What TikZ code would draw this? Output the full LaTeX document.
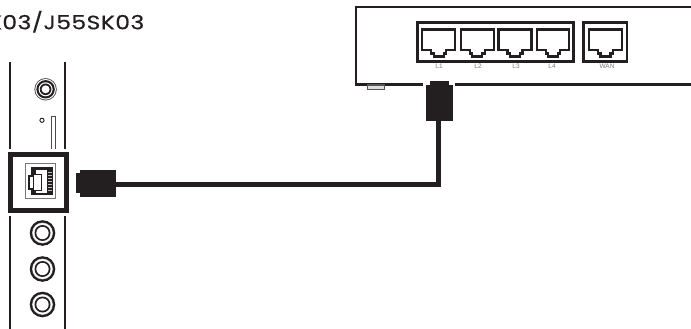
\documentclass[tikz,border=0pt]{standalone}
\usepackage{fontspec}
\setmainfont{Poppins}
\setsansfont{Liberation Sans}
\definecolor{ink}{HTML}{231F20}
\definecolor{midgray}{HTML}{77787B}
\tikzset{
  panelline/.style={draw=ink,line width=2.4pt},
  plugbody/.style={fill=ink,draw=none,inner sep=0pt,outer sep=0pt},
  cable/.style={draw=ink,line width=5pt,line join=miter},
  routerline/.style={draw=ink,line width=2.4pt},
  portline/.style={draw=ink,line width=2.2pt,line join=miter},
  portlabel/.style={font=\sffamily\fontsize{6.5}{6.5}\selectfont,text=midgray,inner sep=0pt},
  thin gray/.style={draw=midgray,line width=.8pt},
  pics/bigjack/.style={code={
    \fill[ink] (0,0) circle (12.8);
    \fill[white!75!ink] (0,0) circle (10.4);
    \fill[white] (0,0) circle (9.8);
    \fill[ink] (0,0) circle (8);
    \fill[white] (0,0) circle (6.2);
  }},
  pics/topjack/.style={code={
    \fill[ink!80] (0,0) circle (11.2);
    \fill[white] (0,0) circle (10.3);
    \fill[ink] (0,0) circle (9.2);
    \fill[white] (0,0) circle (7);
    \fill[ink] (0,0) circle (5.8);
    \fill[white] (0,0) circle (4);
  }},
  pics/rjport/.style={code={
    \draw[portline] (0,0) -- (#1,0) -- (#1,20.5) -- (#1-9,20.5) -- (#1-9,24) -- (#1-11.5,24) -- (#1-11.5,27)
      -- (11.5,27) -- (11.5,24) -- (9,24) -- (9,20.5) -- (0,20.5) -- cycle;
  }}
}
\begin{document}
\begin{tikzpicture}[x=1pt,y=-1pt]
\useasboundingbox (0,0) rectangle (691,329);
\begin{scope}
\clip (0,0) rectangle (691,329);
\node[anchor=base east,inner sep=0pt,text=ink,xscale=1.2] (title) at (144.5,29.3)
  {\fontsize{19.5}{20}\selectfont\addfontfeature{LetterSpace=2,FakeBold=0.4}K03/J55SK03};

% wall panel
\draw[panelline] (10,62) -- (10,149);
\draw[panelline] (65,62) -- (65,149);
\draw[panelline] (10,216) -- (10,329);
\draw[panelline] (65,216) -- (65,329);
\pic at (45.6,89.3) {topjack};
\draw[ink,line width=.9pt] (42,120.3) circle (2.1);
\draw[ink!80,line width=.8pt] (51.5,149) -- (51.5,116.5) -- (55.7,116.5) -- (55.7,149);
\pic at (42.5,233) {bigjack};
\pic at (42.5,269) {bigjack};
\pic at (42.5,304.5) {bigjack};

% wall socket
\draw[draw=ink,line width=5pt] (10,154.5) rectangle (66.5,210.5);
\draw[thin gray] (25,163.7) rectangle (55.5,198.5);
\fill[ink] (31,167) rectangle (53,195);
\fill[white] (36,170) rectangle (45.5,192.5);
\fill[ink] (28,175) rectangle (33,190);
\fill[white] (29.5,177) rectangle (33,188);
\fill[white] (33,174.5) rectangle (41,190.5);
\draw[ink,line width=.8pt] (33,174.5) rectangle (41,190.5);
\fill[white] (45.5,170) rectangle (46.8,192.5);
\foreach \yy in {171.5,174.5,...,190} \fill[white!70!ink] (47.5,\yy) rectangle (51.5,\yy+1.3);

% router
\draw[routerline] (691,7) -- (356,7) -- (356,84.7) -- (423,84.7);
\draw[routerline] (455,84.7) -- (691,84.7);
\draw[draw=midgray!70!black,line width=1.5pt,fill=midgray!25] (367.5,85) rectangle (384.5,89.5);
\draw[portline] (417.5,22.5) rectangle (573.5,61.5);
\draw[portline] (583.5,22.5) rectangle (627,61.5);
\pic at (422.2,29.5) {rjport=33};
\pic at (460.7,29.5) {rjport=33};
\pic at (498.5,29.5) {rjport=33};
\pic at (536.7,29.5) {rjport=32.5};
\pic at (589,29.5) {rjport=33};
\node[portlabel] (l1) at (439,65.8) {L1};
\node[portlabel] (l2) at (478,65.8) {L2};
\node[portlabel] (l3) at (516,65.8) {L3};
\node[portlabel] (l4) at (552,65.8) {L4};
\node[portlabel] (wan) at (607,65.8) {WAN};

% plugs and cable
\node[plugbody,minimum width=36pt,minimum height=27pt] (plugA) at (98,183.5) {};
\fill[ink] (76,173) rectangle (80,193);
\node[plugbody,minimum width=27pt,minimum height=36pt] (plugB) at (439.5,102.8) {};
\fill[ink] (430,81) rectangle (449,85);
\draw[cable] (plugA.east |- 0,184.5) -- (438.5,184.5) -- (plugB.south -| 438.5,0);
\end{scope}
\end{tikzpicture}
\end{document}
